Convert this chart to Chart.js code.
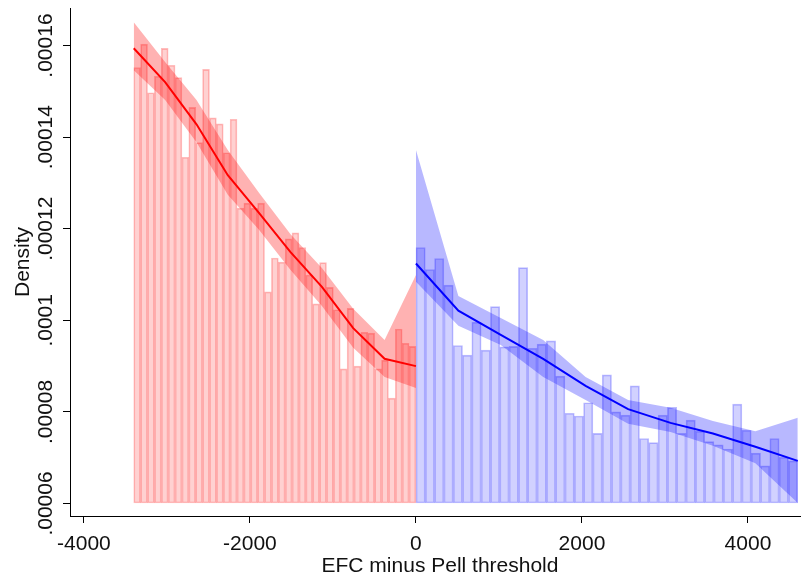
<!DOCTYPE html>
<html>
<head>
<meta charset="utf-8">
<script src="https://cdn.jsdelivr.net/npm/chart.js@4.4.1/dist/chart.umd.min.js"></script>
<style>
  html, body { margin: 0; padding: 0; background: #fff; }
  #wrap { width: 801px; height: 579px; }
</style>
</head>
<body>
<div id="wrap"><canvas id="c" width="801" height="579"></canvas></div>
<script>
// histogram bins on each side of the threshold
const N_BINS = 41
const RED_RANGE = [-3400, 0]
const BLUE_RANGE = [0, 4600]

const RED_DENSITY = [
  155.2e-6, 160.3e-6, 149.7e-6, 153.3e-6, 159.4e-6, 155.7e-6, 153.0e-6, 135.6e-6, 146.5e-6, 138.8e-6,
  154.8e-6, 144.2e-6, 142.9e-6, 136.6e-6, 143.9e-6, 124.5e-6, 125.6e-6, 124.5e-6, 125.6e-6, 106.2e-6,
  113.6e-6, 112.7e-6, 117.8e-6, 119.1e-6, 115.9e-6, 109.9e-6, 103.6e-6, 112.6e-6, 107.2e-6, 102.3e-6,
  89.4e-6, 102.6e-6, 90.0e-6, 97.4e-6, 97.2e-6, 89.4e-6, 91.3e-6, 83.0e-6, 98.1e-6, 95.0e-6, 94.3e-6,
]
const BLUE_DENSITY = [
  115.9e-6, 111.1e-6, 113.5e-6, 107.7e-6, 94.5e-6, 92.4e-6, 99.6e-6, 93.5e-6, 103.0e-6, 94.2e-6,
  94.3e-6, 111.5e-6, 93.9e-6, 94.8e-6, 95.5e-6, 87.8e-6, 79.7e-6, 79.1e-6, 82.0e-6, 75.3e-6,
  88.1e-6, 80.0e-6, 79.3e-6, 85.7e-6, 74.2e-6, 73.3e-6, 79.3e-6, 81.0e-6, 75.3e-6, 78.2e-6,
  75.8e-6, 73.5e-6, 72.8e-6, 71.9e-6, 81.7e-6, 76.0e-6, 71.0e-6, 68.2e-6, 74.2e-6, 70.1e-6, 69.3e-6,
]

// local polynomial fit and 95% band, evaluated on 10 points per side
const RED_GRID = [-3400, -3022, -2644, -2267, -1889, -1511, -1133, -756, -378, 0]
const RED_FIT = [159.4e-6, 152.0e-6, 142.8e-6, 131.7e-6, 123.4e-6, 114.9e-6, 107.3e-6, 98.3e-6, 91.6e-6, 90.0e-6]
const RED_UPPER = [165.1e-6, 156.4e-6, 148.1e-6, 137.2e-6, 127.8e-6, 118.8e-6, 111.4e-6, 102.5e-6, 95.7e-6, 109.9e-6]
const RED_LOWER = [154.6e-6, 148.1e-6, 138.9e-6, 127.4e-6, 119.7e-6, 111.0e-6, 103.1e-6, 94.0e-6, 87.6e-6, 85.2e-6]

const BLUE_GRID = [0, 511, 1022, 1533, 2044, 2556, 3067, 3578, 4089, 4600]
const BLUE_FIT = [112.4e-6, 102.1e-6, 96.8e-6, 91.6e-6, 85.7e-6, 80.6e-6, 77.6e-6, 75.3e-6, 72.4e-6, 69.3e-6]
const BLUE_UPPER = [137.2e-6, 105.3e-6, 100.5e-6, 95.7e-6, 87.6e-6, 82.6e-6, 80.9e-6, 78.0e-6, 75.8e-6, 78.7e-6]
const BLUE_LOWER = [108.4e-6, 98.8e-6, 94.6e-6, 87.6e-6, 82.6e-6, 77.4e-6, 75.6e-6, 72.6e-6, 68.8e-6, 60.1e-6]

const X_TICKS = [-4000, -2000, 0, 2000, 4000]
const Y_TICKS = [0.00006, 0.00008, 0.0001, 0.00012, 0.00014, 0.00016]
const Y_TICK_LABELS = ['.00006', '.00008', '.0001', '.00012', '.00014', '.00016']

const X_MIN = -4168
const X_MAX = 4639
const Y_MIN = 57.27e-6
const Y_MAX = 168.2e-6
const BAR_BASE = 0.00006

const FONT = '"Liberation Sans", Arial, sans-serif'
const TEXT = '#111'

function binCenters([lo, hi], n) {
  const w = (hi - lo) / n
  return Array.from({ length: n }, (_, i) => lo + w * (i + 0.5))
}

function points(xs, ys) {
  return xs.map((x, i) => ({ x, y: ys[i] }))
}

function histDataset(label, xs, ys, fill, border, axis) {
  return {
    type: 'bar',
    label,
    data: points(xs, ys),
    xAxisID: axis,
    base: BAR_BASE,
    grouped: false,
    barPercentage: 1,
    categoryPercentage: 1,
    backgroundColor: fill,
    borderColor: border,
    borderWidth: 1,
    borderSkipped: false,
    order: 3,
  }
}

function bandDatasets(label, xs, upper, lower, color) {
  return [
    {
      type: 'line', label: label + ' upper', data: points(xs, upper),
      borderWidth: 0, pointRadius: 0, tension: 0,
      fill: '+1', backgroundColor: color, order: 2,
    },
    {
      type: 'line', label: label + ' lower', data: points(xs, lower),
      borderWidth: 0, pointRadius: 0, tension: 0,
      fill: false, order: 2,
    },
  ]
}

function fitDataset(label, xs, ys, color) {
  return {
    type: 'line', label, data: points(xs, ys),
    borderColor: color, borderWidth: 2, pointRadius: 0, tension: 0,
    fill: false, order: 1,
  }
}

// rotated y tick labels and both axis titles
const axisText = {
  id: 'axisText',
  afterDraw(chart) {
    const { ctx, chartArea, scales: { y } } = chart
    ctx.save()
    ctx.fillStyle = TEXT
    ctx.font = '21px ' + FONT
    ctx.textAlign = 'center'
    ctx.textBaseline = 'middle'
    Y_TICKS.forEach((v, i) => {
      ctx.save()
      ctx.translate(46, y.getPixelForValue(v))
      ctx.rotate(-Math.PI / 2)
      ctx.fillText(Y_TICK_LABELS[i], 0, 0)
      ctx.restore()
    })
    ctx.save()
    ctx.translate(23, (chartArea.top + chartArea.bottom) / 2)
    ctx.rotate(-Math.PI / 2)
    ctx.fillText('Density', 0, 0)
    ctx.restore()
    ctx.fillText('EFC minus Pell threshold', 440, 566)
    ctx.restore()
  },
}

const xScale = {
  type: 'linear',
  min: X_MIN,
  max: X_MAX,
  offset: false,
  afterBuildTicks: (s) => { s.ticks = X_TICKS.map((value) => ({ value })) },
  afterFit: (s) => { s.height = 63 },
  grid: { drawOnChartArea: false, offset: false, tickLength: 7, color: '#000', tickWidth: 1 },
  border: { display: true, color: '#000', width: 1 },
  ticks: {
    color: TEXT,
    font: { family: FONT, size: 21 },
    padding: 9,
    maxRotation: 0,
    callback: (v) => String(v),
  },
}

new Chart(document.getElementById('c'), {
  type: 'bar',
  data: {
    datasets: [
      histDataset('below', binCenters(RED_RANGE, N_BINS), RED_DENSITY, 'rgba(255,0,0,0.18)', 'rgba(255,0,0,0.26)', 'x'),
      histDataset('above', binCenters(BLUE_RANGE, N_BINS), BLUE_DENSITY, 'rgba(0,0,255,0.18)', 'rgba(0,0,255,0.26)', 'x2'),
      ...bandDatasets('below', RED_GRID, RED_UPPER, RED_LOWER, 'rgba(255,0,0,0.3)'),
      ...bandDatasets('above', BLUE_GRID, BLUE_UPPER, BLUE_LOWER, 'rgba(0,0,255,0.28)'),
      fitDataset('below fit', RED_GRID, RED_FIT, '#ff0000'),
      fitDataset('above fit', BLUE_GRID, BLUE_FIT, '#0000ff'),
    ],
  },
  options: {
    responsive: false,
    animation: false,
    devicePixelRatio: 1,
    layout: { padding: { top: 8, right: 0, left: 0, bottom: 0 } },
    plugins: { legend: { display: false }, tooltip: { enabled: false } },
    scales: {
      x: xScale,
      x2: { type: 'linear', min: X_MIN, max: X_MAX, offset: false, display: false, grid: { offset: false } },
      y: {
        type: 'linear',
        min: Y_MIN,
        max: Y_MAX,
        beginAtZero: false,
        afterBuildTicks: (s) => { s.ticks = Y_TICKS.map((value) => ({ value })) },
        afterFit: (s) => { s.width = 70 },
        grid: { drawOnChartArea: false, tickLength: 7, color: '#000' },
        border: { display: true, color: '#000', width: 1 },
        ticks: { display: false },
      },
    },
  },
  plugins: [axisText],
})
</script>
</body>
</html>
